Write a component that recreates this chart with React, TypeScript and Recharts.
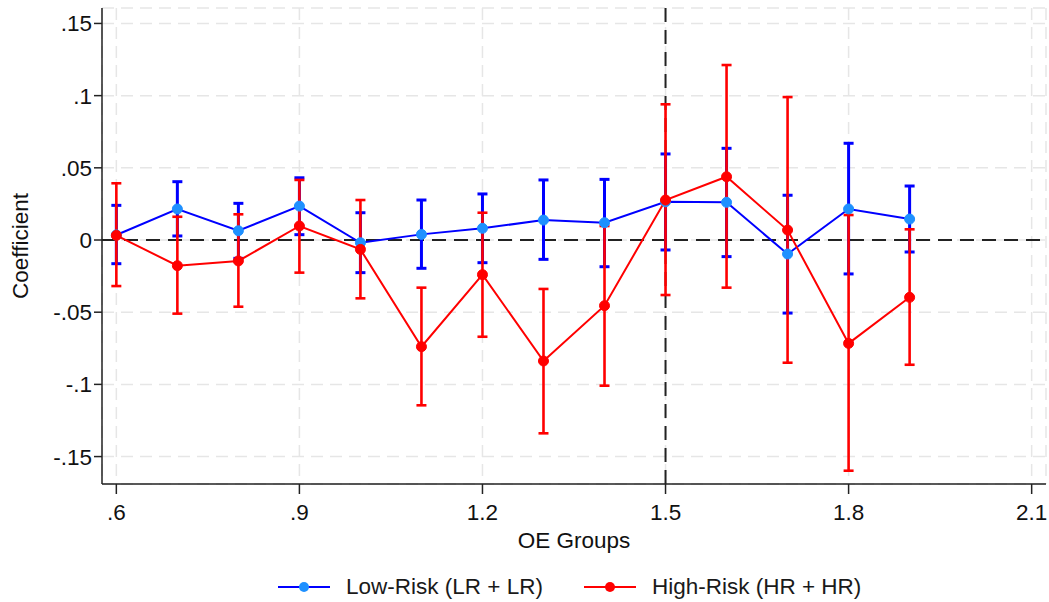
import { ComposedChart, Line, XAxis, YAxis, CartesianGrid, ErrorBar, ReferenceLine, Legend } from 'recharts'

// OE group midpoints
const groups = [0.6, 0.7, 0.8, 0.9, 1.0, 1.1, 1.2, 1.3, 1.4, 1.5, 1.6, 1.7, 1.8, 1.9]

// Low-Risk (LR + LR): point estimate and 95% CI
const lowRisk = [0.0035, 0.0215, 0.0064, 0.0235, -0.0019, 0.0039, 0.0081, 0.0138, 0.012, 0.0265, 0.0261, -0.0097, 0.0215, 0.0145]
const lowRiskLower = [-0.0164, 0.0028, -0.0127, 0.0037, -0.0226, -0.0196, -0.0157, -0.0134, -0.0185, -0.0069, -0.0115, -0.0506, -0.0235, -0.0083]
const lowRiskUpper = [0.024, 0.0404, 0.0254, 0.0431, 0.0189, 0.0277, 0.0319, 0.0416, 0.042, 0.0596, 0.0635, 0.031, 0.067, 0.0374]

// High-Risk (HR + HR): point estimate and 95% CI
const highRisk = [0.0032, -0.0178, -0.0145, 0.0097, -0.0065, -0.0739, -0.024, -0.0838, -0.0455, 0.0277, 0.0438, 0.0069, -0.0716, -0.0397]
const highRiskLower = [-0.0319, -0.051, -0.0462, -0.0226, -0.0404, -0.1145, -0.067, -0.1339, -0.1009, -0.0381, -0.033, -0.085, -0.1598, -0.0864]
const highRiskUpper = [0.0393, 0.0161, 0.0178, 0.0416, 0.0277, -0.033, 0.0189, -0.0339, 0.0097, 0.094, 0.1212, 0.099, 0.0173, 0.0074]

const xTicks = [0.6, 0.9, 1.2, 1.5, 1.8, 2.1]
const yTicks = [-0.15, -0.1, -0.05, 0, 0.05, 0.1, 0.15]

const data = groups.map((g, i) => ({
    x: g,
    low: lowRisk[i],
    lowErr: [lowRisk[i] - lowRiskLower[i], lowRiskUpper[i] - lowRisk[i]],
    high: highRisk[i],
    highErr: [highRisk[i] - highRiskLower[i], highRiskUpper[i] - highRisk[i]],
}))

// stata style: drop the leading zero
const fmt = (v: number) => {
    const s = String(+v.toFixed(2))
    return s.replace(/^0\./, '.').replace(/^-0\./, '-.')
}

const FONT = '"Liberation Sans", Arial, sans-serif'
const FS = 22.5
const BLUE = '#0000ff'
const BLUE_DOT = '#1e90ff'
const RED = '#ff0000'

function LegendItem({ line, dot, label }: { line: string; dot: string; label: string }) {
    return (
        <div style={{ display: 'flex', alignItems: 'center' }}>
            <svg width={52} height={12}>
                <line x1={0} y1={6} x2={52} y2={6} stroke={line} strokeWidth={2} />
                <circle cx={26} cy={6} r={5} fill={dot} />
            </svg>
            <span style={{ marginLeft: 16, fontSize: FS, color: '#1a1a1a', fontFamily: FONT }}>{label}</span>
        </div>
    )
}

function LegendBox() {
    return (
        <div style={{ height: 48, boxSizing: 'border-box', paddingTop: 18, paddingLeft: 278, display: 'flex', alignItems: 'center', gap: 41 }}>
            <LegendItem line={BLUE} dot={BLUE_DOT} label="Low-Risk (LR + LR)" />
            <LegendItem line={RED} dot={RED} label="High-Risk (HR + HR)" />
        </div>
    )
}

export default function App() {
    const tickStyle = { fontSize: FS, fill: '#111', fontFamily: FONT }
    return (
        <div style={{ width: 1049, height: 602, background: '#fff' }}>
            <style>{'body{margin:0}'}</style>
            <ComposedChart width={1049} height={602} data={data} margin={{ top: 8, right: 3, left: 0, bottom: 0 }} style={{ fontFamily: FONT }}>
                <CartesianGrid stroke="#e6e6e6" strokeWidth={1.5} strokeDasharray="12 7" />
                <XAxis
                    dataKey="x"
                    type="number"
                    domain={[0.5765, 2.1235]}
                    ticks={xTicks}
                    tickFormatter={fmt}
                    tick={tickStyle}
                    tickSize={10}
                    tickMargin={10}
                    height={70}
                    stroke="#222"
                    strokeWidth={1.5}
                    allowDataOverflow
                    label={{ value: 'OE Groups', position: 'insideBottom', offset: 6, fontSize: FS, fill: '#111', fontFamily: FONT }}
                />
                <YAxis
                    type="number"
                    domain={[-0.169, 0.1607]}
                    ticks={yTicks}
                    tickFormatter={fmt}
                    tick={tickStyle}
                    tickSize={8}
                    tickMargin={2}
                    width={102}
                    stroke="#222"
                    strokeWidth={1.5}
                    allowDataOverflow
                    label={{
                        content: ({ viewBox }: any) => {
                            const cy = viewBox.y + viewBox.height / 2
                            return (
                                <text x={20} y={cy} transform={`rotate(-90, 20, ${cy})`} textAnchor="middle" dominantBaseline="central" fontSize={FS} fill="#111" fontFamily={FONT}>
                                    Coefficient
                                </text>
                            )
                        },
                    }}
                />
                <ReferenceLine y={0} stroke="#222" strokeWidth={2} strokeDasharray="14 8" />
                <ReferenceLine x={1.5} stroke="#222" strokeWidth={2} strokeDasharray="14 8" />
                <Line dataKey="low" stroke={BLUE} strokeWidth={2} dot={{ r: 5, fill: BLUE_DOT, stroke: BLUE_DOT, strokeWidth: 1 }} activeDot={false} isAnimationActive={false}>
                    <ErrorBar dataKey="lowErr" direction="y" width={5} stroke={BLUE} strokeWidth={3} isAnimationActive={false} />
                </Line>
                <Line dataKey="high" stroke={RED} strokeWidth={2} dot={{ r: 5, fill: RED, stroke: RED, strokeWidth: 1 }} activeDot={false} isAnimationActive={false}>
                    <ErrorBar dataKey="highErr" direction="y" width={5} stroke={RED} strokeWidth={2.6} isAnimationActive={false} />
                </Line>
                <Legend verticalAlign="bottom" height={48} wrapperStyle={{ left: 0, width: 1049 }} content={() => <LegendBox />} />
            </ComposedChart>
        </div>
    )
}
